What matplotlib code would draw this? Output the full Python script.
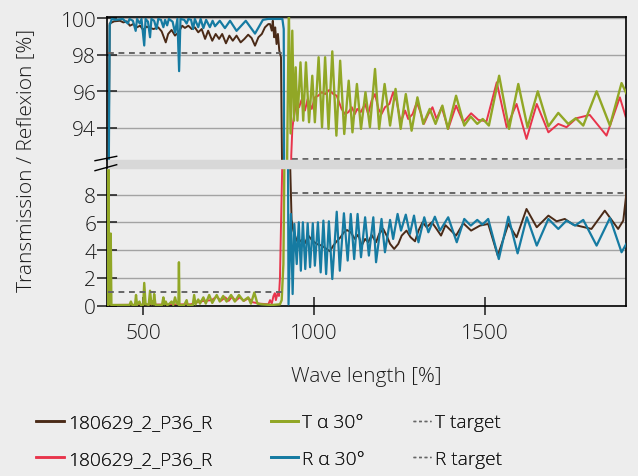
import numpy as np
import matplotlib
matplotlib.use("Agg")
import matplotlib.pyplot as plt
from matplotlib.lines import Line2D
from matplotlib.patches import Rectangle

plt.rcParams['font.family'] = ['Open Sans', 'DejaVu Sans']
plt.rcParams['font.weight'] = 'light'

# ==== data (wavelength in nm, value in %) ====
r_meas_nm = [397, 402, 415, 432, 442, 452, 461, 471, 481, 491, 500, 510, 520, 530, 544, 554, 566,
             573, 583, 593, 603, 614, 622, 632, 642, 651, 661, 671, 681, 690, 702, 712, 722, 731,
             742, 752, 762, 773, 785, 796, 807, 817, 827, 837, 847, 856, 866, 871, 876, 879, 883,
             886, 890, 894, 898, 903, 906, 930, 934, 939, 949, 956, 963, 973, 983, 993, 1007,
             1022, 1036, 1046, 1056, 1066, 1077, 1087, 1096, 1107, 1119, 1129, 1139, 1149, 1158,
             1168, 1181, 1190, 1202, 1212, 1222, 1234, 1246, 1256, 1270, 1282, 1295, 1305, 1317,
             1329, 1344, 1358, 1371, 1384, 1415, 1436, 1459, 1485, 1509, 1537, 1568, 1592, 1621,
             1651, 1685, 1709, 1733, 1758, 1782, 1811, 1850, 1889, 1904, 1914]
r_meas = [88.0, 99.7, 99.82, 99.85, 99.76, 99.82, 99.58, 99.67, 99.49, 99.58, 99.35, 99.53, 99.46,
          99.4, 99.49, 99.27, 98.67, 99.13, 99.35, 99.04, 99.22, 99.58, 99.46, 99.58, 99.4, 99.49,
          99.22, 99.4, 98.86, 99.31, 98.76, 99.13, 98.86, 99.13, 98.62, 99.04, 98.76, 99.04, 98.67,
          98.86, 99.09, 98.91, 98.49, 98.95, 99.13, 99.49, 99.67, 99.67, 99.31, 99.85, 98.95,
          99.49, 98.58, 99.13, 98.22, 97.86, 92.0, 9.95, 6.2, 5.41, 4.69, 4.57, 4.74, 4.5, 5.05,
          4.74, 4.45, 4.33, 4.09, 3.92, 4.33, 4.64, 4.93, 5.29, 5.45, 5.29, 4.81, 5.12, 4.33, 4.81,
          4.57, 5.1, 4.57, 5.17, 5.53, 5.05, 4.45, 4.09, 4.45, 5.05, 5.41, 4.93, 4.64, 5.41, 6.01,
          5.65, 6.01, 5.53, 5.05, 5.8, 5.05, 5.94, 5.41, 5.77, 5.89, 3.61, 5.89, 4.93, 6.97, 5.65,
          6.49, 6.08, 6.25, 5.84, 5.7, 5.53, 6.85, 5.53, 6.13, 8.29]

t_meas_nm = [397, 640, 650, 665, 680, 700, 715, 727, 740, 750, 760, 770, 782, 795, 808, 820, 840,
             866, 871, 876, 881, 885, 888, 893, 897, 900, 904, 907, 933, 936, 939, 949, 956, 963,
             973, 981, 993, 1002, 1012, 1022, 1032, 1044, 1056, 1066, 1080, 1090, 1100, 1110,
             1119, 1126, 1136, 1149, 1158, 1168, 1178, 1188, 1197, 1207, 1220, 1231, 1241, 1253,
             1266, 1275, 1288, 1300, 1311, 1321, 1334, 1346, 1358, 1373, 1392, 1415, 1436, 1459,
             1480, 1504, 1534, 1563, 1592, 1621, 1651, 1685, 1714, 1738, 1767, 1806, 1855, 1894,
             1911]
t_meas = [0.05, 0.1, 0.2, 0.3, 0.35, 0.4, 0.65, 0.35, 0.6, 0.35, 0.65, 0.35, 0.6, 0.35, 0.55, 0.25,
          0.15, 0.1, 0.4, 0.15, 0.7, 0.9, 0.4, 0.9, 0.7, 2.0, 7.0, 10.5, 92.5, 93.9, 94.4, 95.58,
          95.13, 95.53, 94.95, 95.58, 95.04, 95.67, 95.76, 95.95, 95.85, 96.07, 95.85, 95.76, 95.04,
          94.76, 94.86, 95.13, 94.76, 95.04, 94.86, 95.31, 94.76, 95.49, 95.85, 95.04, 94.76, 95.13,
          95.31, 95.95, 95.49, 94.31, 94.95, 94.49, 94.76, 95.4, 94.86, 94.22, 94.76, 95.13, 94.49,
          95.13, 93.95, 95.22, 94.31, 94.8, 94.44, 94.36, 96.49, 94.04, 95.31, 93.4, 95.31, 93.76,
          94.22, 94.04, 94.53, 94.71, 93.58, 95.67, 94.62]

t_calc_nm = [396, 398, 400, 403, 405, 407, 460, 464, 468, 476, 479, 482, 489, 493, 500, 503, 507,
             510, 516, 520, 524, 527, 530, 532, 536, 555, 559, 562, 566, 570, 575, 583, 588, 593,
             598, 603, 604.5, 606, 620, 627, 630, 645, 649, 653, 661, 666, 676, 683, 693, 702, 715,
             724, 734, 744, 757, 768, 780, 793, 807, 815, 825, 834, 846, 876, 900, 905, 910, 913,
             921, 926, 931, 936, 941, 946, 951, 960, 968, 976, 985, 994.5, 1002, 1013, 1023, 1032,
             1042, 1053, 1065, 1076, 1088, 1101, 1112, 1125, 1137, 1150, 1163, 1178, 1190, 1206,
             1222, 1238, 1253, 1268, 1285, 1302, 1319, 1338, 1355, 1375, 1391, 1415, 1439, 1458,
             1477, 1493, 1511, 1541, 1570, 1597, 1624, 1654, 1685, 1714, 1743, 1765, 1787, 1826,
             1865, 1899, 1914]
t_calc = [0.05, 10.5, 0.1, 0.1, 5.2, 0.05, 0.05, 0.3, 0.05, 0.05, 0.77, 0.05, 0.3, 0.05, 0.05, 1.64,
          0.1, 0.1, 0.05, 1.08, 0.1, 0.3, 0.1, 0.84, 0.05, 0.05, 0.6, 0.1, 0.3, 0.05, 0.1, 0.3, 0.05,
          0.6, 0.15, 0.1, 3.13, 0.05, 0.05, 0.4, 0.05, 0.05, 0.77, 0.1, 0.45, 0.15, 0.6, 0.15, 0.77,
          0.2, 0.77, 0.3, 0.7, 0.3, 0.77, 0.3, 0.77, 0.35, 0.6, 0.15, 0.95, 0.15, 0.1, 0.05, 0.1,
          0.4, 3.0, 10.5, 92.5, 100.5, 93.7, 99.31, 94.4, 97.31, 94.4, 97.58, 94.4, 97.58, 94.31,
          96.85, 94.31, 97.86, 94.04, 97.86, 93.95, 98.18, 93.58, 97.67, 93.67, 96.58, 93.76, 96.4,
          93.95, 95.95, 94.04, 97.22, 93.95, 96.4, 94.13, 96.13, 93.95, 95.85, 93.85, 95.67, 94.22,
          95.04, 94.22, 95.22, 93.95, 95.76, 94.13, 94.62, 94.22, 94.49, 94.13, 96.85, 93.95, 96.4,
          94.04, 96.0, 94.09, 94.82, 94.22, 94.53, 94.13, 96.0, 94.13, 96.45, 95.85]

r_calc_nm = [397, 402, 408, 420, 440, 455, 460, 470, 478, 482, 490, 495, 503, 507, 514, 520, 524,
             532, 539, 544, 552, 559, 564, 570, 575, 586, 593, 600, 605, 609, 620, 627, 632, 640,
             646, 651, 661, 668, 676, 684, 695, 703, 710, 724, 739, 754, 773, 800, 827, 850, 865,
             907, 911, 925, 932, 937, 942, 949, 955, 961, 967, 974, 981, 988, 996, 1002, 1011, 1019,
             1027, 1035, 1043, 1053, 1066, 1075, 1087, 1098, 1107, 1117, 1127, 1137, 1149, 1160,
             1173, 1181, 1197, 1207, 1222, 1231, 1244, 1254, 1268, 1280, 1292, 1305, 1322, 1334,
             1353, 1368, 1392, 1417, 1439, 1458, 1477, 1492, 1509, 1540, 1568, 1595, 1622, 1651,
             1685, 1714, 1738, 1763, 1787, 1826, 1865, 1899, 1914]
r_calc = [85.0, 99.6, 99.95, 99.9, 99.95, 99.7, 99.95, 99.85, 99.3, 99.95, 99.7, 99.95, 98.5, 99.95,
          99.8, 98.95, 99.95, 99.85, 99.4, 99.95, 99.9, 99.5, 99.9, 99.6, 99.95, 99.8, 99.2, 99.95,
          97.1, 99.95, 99.9, 99.7, 99.95, 99.9, 99.4, 99.95, 99.5, 99.95, 99.45, 99.9, 99.5, 99.85,
          99.55, 99.85, 99.45, 99.85, 99.3, 99.85, 99.15, 99.9, 99.95, 99.95, 99.4, 0.1, 6.61, 0.84,
          5.89, 3.0, 6.01, 2.52, 6.01, 2.64, 5.94, 2.77, 5.94, 2.88, 6.01, 2.4, 6.13, 2.28, 6.08,
          1.92, 6.77, 2.52, 6.66, 3.25, 6.61, 3.36, 6.61, 3.49, 6.37, 3.61, 6.37, 3.13, 6.25, 3.85,
          6.18, 4.81, 6.61, 5.41, 6.56, 5.17, 6.49, 4.57, 6.37, 5.29, 6.41, 5.41, 6.37, 4.57, 6.25,
          5.77, 6.18, 5.84, 6.25, 3.36, 6.41, 3.77, 6.37, 4.33, 6.25, 5.53, 6.13, 5.77, 6.18, 4.33,
          6.32, 3.85, 4.5]

target_nm = [397, 908, np.nan, 934, 1914]
t_target = [1.0, 1.0, np.nan, 92.32, 92.32]
r_target = [98.1, 98.1, np.nan, 8.15, 8.15]

labels = ['180629_2_P36_R', '180629_2_P36_R', 'T \u03b1 30\u00b0', 'R \u03b1 30\u00b0', 'T target', 'R target']
colors = ['#4a2a17', '#e8344b', '#91a726', '#167ba2', '#666666', '#666666']

bg = '#ededed'
txt = '#1a1a1a'
W, H = 638, 477


def fx(px):
    return px / W


def fy(py):
    return 1 - py / H


fig = plt.figure(figsize=(6.38, 4.77), dpi=100, facecolor=bg)
ax_top = fig.add_axes([fx(107.3), fy(161), fx(626) - fx(107.3), fy(18.3) - fy(161)], facecolor=bg)
ax_bot = fig.add_axes([fx(107.3), fy(306.7), fx(626) - fx(107.3), fy(169) - fy(306.7)], facecolor=bg)

series = [
    (r_meas_nm, r_meas, colors[0], 1.4, 3),
    (t_meas_nm, t_meas, colors[1], 1.4, 2),
    (t_calc_nm, t_calc, colors[2], 1.7, 4),
    (r_calc_nm, r_calc, colors[3], 1.6, 5),
]
for ax in (ax_top, ax_bot):
    for nm, vals, c, lw, z in series:
        ax.plot(nm, vals, color=c, lw=lw, zorder=z)
    ax.plot(target_nm, t_target, color=colors[4], lw=1.4, dashes=(3.0, 2.4), zorder=6)
    ax.plot(target_nm, r_target, color=colors[5], lw=1.4, dashes=(3.0, 2.4), zorder=6)
    ax.set_xlim(395, 1912)
    ax.yaxis.grid(True, color='#a3a3a3', lw=1.0)
    ax.set_axisbelow(True)
    for s in ax.spines.values():
        s.set_linewidth(1.2)
    ax.tick_params(axis='y', direction='inout', length=14, width=1.1, labelsize=15, pad=1,
                   colors=txt)

ax_top.set_ylim(92.25, 100.04)
ax_top.set_yticks([94, 96, 98, 100])
ax_top.spines['bottom'].set_visible(False)
ax_top.tick_params(axis='x', bottom=False, labelbottom=False)

ax_bot.set_ylim(0, 9.92)
ax_bot.set_yticks([0, 2, 4, 6, 8])
ax_bot.set_xticks([500, 1000, 1500])
ax_bot.spines['top'].set_visible(False)
ax_bot.tick_params(axis='x', direction='inout', length=12.5, width=1.1, labelsize=15, pad=6,
                   colors=txt)

# axis break: grey band, spines across the gap and the // marks
fig.patches.append(Rectangle((fx(107.3), fy(169)), fx(626) - fx(107.3), fy(161) - fy(169),
                             transform=fig.transFigure, color='#d8d8d8', zorder=1))
for x in (107.3, 626):
    fig.lines.append(Line2D([fx(x), fx(x)], [fy(161), fy(169)], transform=fig.transFigure,
                            color='black', lw=1.2, zorder=3))
for y0, y1 in ((161.7, 157.3), (171.7, 165.7)):
    fig.lines.append(Line2D([fx(95), fx(116.7)], [fy(y0), fy(y1)], transform=fig.transFigure,
                            color='black', lw=1.0, zorder=3))

fig.text(fx(366.5), fy(377), 'Wave length [%]', ha='center', va='center', fontsize=15, color=txt)
fig.text(fx(26), fy(160), 'Transmission / Reflexion [%]', ha='center', va='center', fontsize=15,
         rotation=90, color=txt)

# legend, three columns of two rows
handles = [Line2D([], [], color=colors[0], lw=1.8), Line2D([], [], color=colors[1], lw=1.8),
           Line2D([], [], color=colors[2], lw=2.0), Line2D([], [], color=colors[3], lw=2.0),
           Line2D([], [], color=colors[4], lw=1.0, dashes=(2, 2)),
           Line2D([], [], color=colors[5], lw=1.0, dashes=(2, 2))]
for i, (xpos, hlen) in enumerate(((36, 1.45), (271, 1.4), (413, 0.95))):
    leg = fig.legend(handles[2 * i:2 * i + 2], labels[2 * i:2 * i + 2], loc='center left',
                     bbox_to_anchor=(fx(xpos), fy(441.5)), frameon=False, fontsize=13.8,
                     handlelength=hlen, handletextpad=0.22, labelspacing=0.95,
                     borderpad=0, borderaxespad=0, labelcolor=txt)
    fig.add_artist(leg)

fig.savefig('out.png', dpi=100, facecolor=bg)
